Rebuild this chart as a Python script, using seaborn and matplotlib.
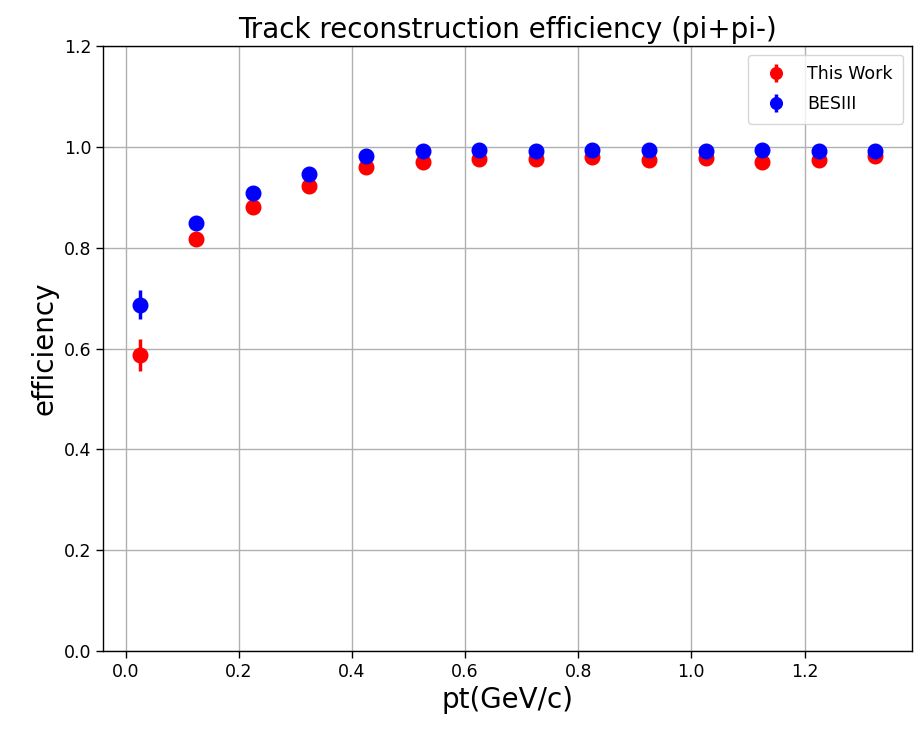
import numpy as np
import pandas as pd
import matplotlib
matplotlib.use("Agg")
import matplotlib.pyplot as plt
import seaborn as sns

pt = [0.025, 0.125, 0.225, 0.325, 0.425, 0.525, 0.625, 0.725, 0.825, 0.925, 1.025, 1.125, 1.225, 1.325]
eff_this = [0.587, 0.817, 0.881, 0.923, 0.960, 0.970, 0.976, 0.976, 0.980, 0.974, 0.977, 0.970, 0.973, 0.982]
err_this = [0.032, 0.006, 0.005, 0.004, 0.003, 0.003, 0.003, 0.003, 0.003, 0.003, 0.003, 0.003, 0.003, 0.003]
eff_bes = [0.687, 0.849, 0.908, 0.946, 0.982, 0.991, 0.994, 0.992, 0.994, 0.994, 0.991, 0.994, 0.992, 0.992]
err_bes = [0.029, 0.005, 0.004, 0.003, 0.003, 0.002, 0.002, 0.002, 0.002, 0.002, 0.002, 0.002, 0.002, 0.002]

sns.set_style("white")
plt.rcParams.update({'text.color': 'black', 'axes.labelcolor': 'black',
                     'xtick.color': 'black', 'ytick.color': 'black'})
fig = plt.figure(figsize=(9.15, 7.35), dpi=100)
ax = fig.add_axes([103/915, 1 - 651/735, (912-103)/915, (651-46)/735])

ax.errorbar(pt, eff_this, yerr=err_this, fmt='o', color='red', markersize=10.5, elinewidth=2.5, label='This Work')
ax.errorbar(pt, eff_bes, yerr=err_bes, fmt='o', color='blue', markersize=10.5, elinewidth=2.5, label='BESIII')

ax.set_ylim(0, 1.2)
ax.set_yticks(np.arange(0, 1.21, 0.2))
ax.set_xticks(np.arange(0, 1.21, 0.2))
ax.grid(True, color='#b0b0b0', linewidth=1)
ax.tick_params(labelsize=12.5, length=5, width=1, direction='out', bottom=True, left=True)
for s in ax.spines.values():
    s.set_color('black')
    s.set_linewidth(1)
ax.set_title('Track reconstruction efficiency (pi+pi-)', fontsize=20, color='black')
ax.set_xlabel('pt(GeV/c)', fontsize=20)
ax.set_ylabel('efficiency', fontsize=20)
leg = ax.legend(loc='upper right', fontsize=12.5, frameon=True, borderpad=0.6, labelspacing=0.7, markerscale=0.8)
fig.savefig('out.png', dpi=100)
